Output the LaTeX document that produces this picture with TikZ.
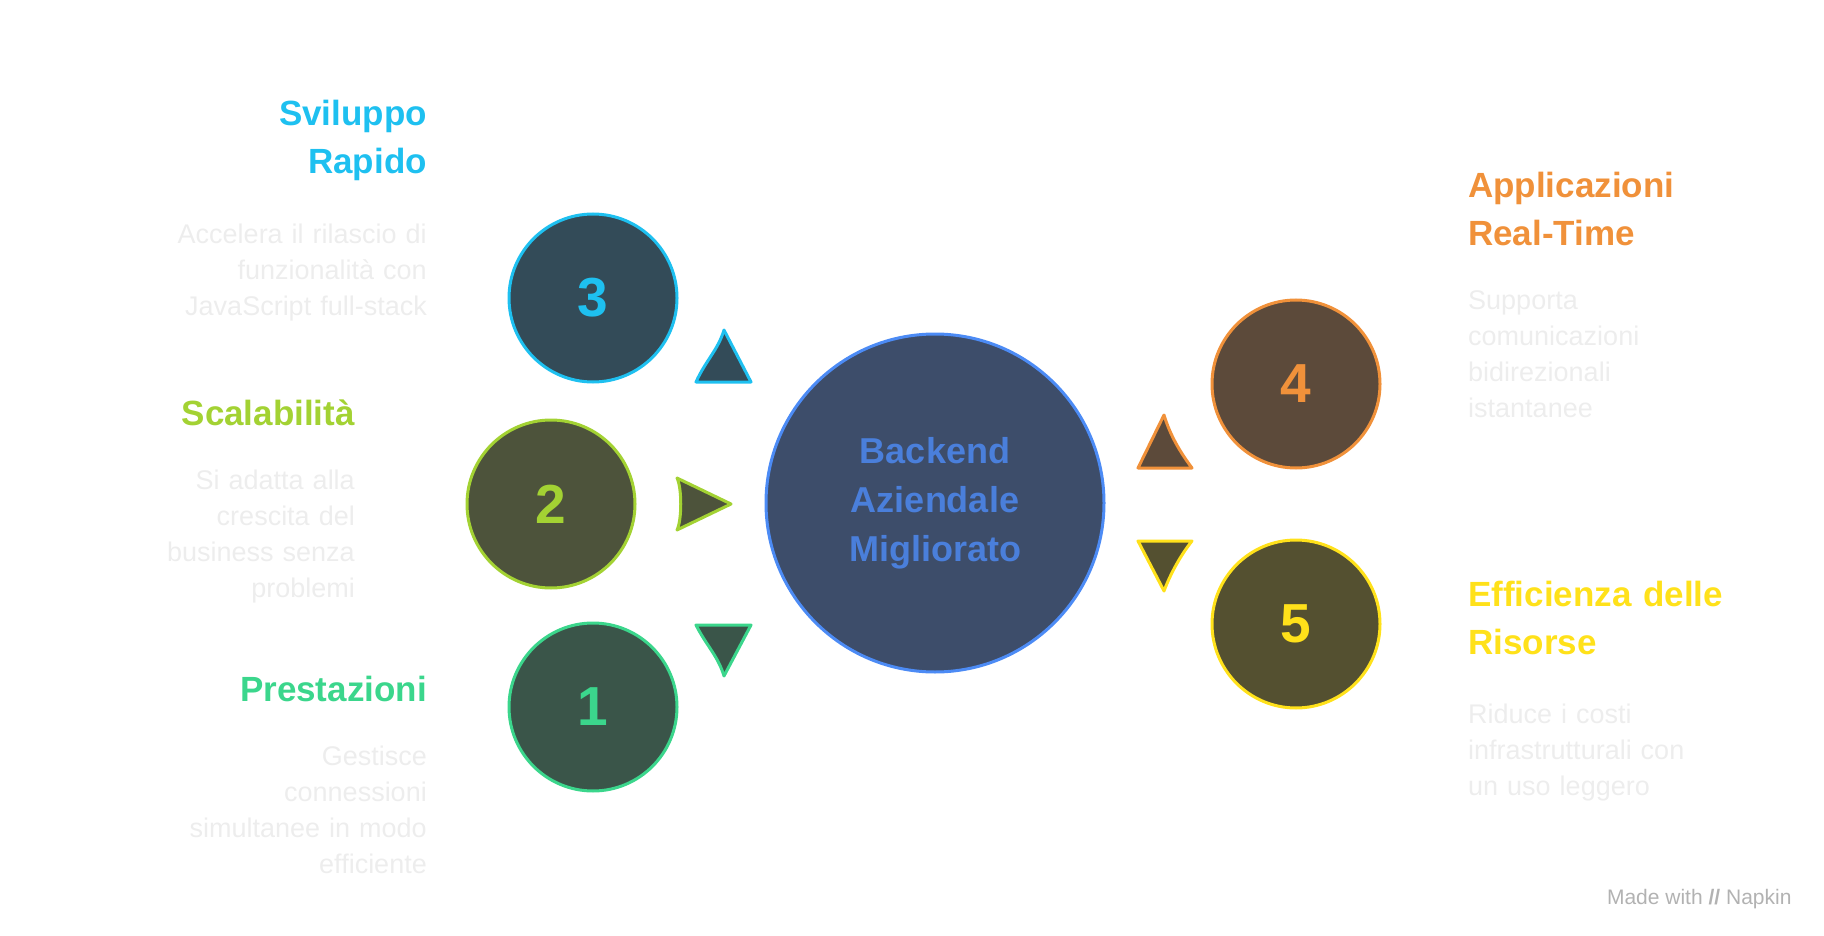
\documentclass[tikz,border=0pt]{standalone}
\usepackage{fontspec}
\setmainfont{Liberation Sans}
\begin{document}
\begin{tikzpicture}[x=1pt,y=-1pt,
 circ/.style={circle,line width=3pt,minimum size=#1,inner sep=0pt,font=\fontsize{55}{55}\selectfont\bfseries},
 ttl/.style={font=\fontsize{35}{48}\selectfont\bfseries,inner sep=0pt,text width=330pt},
 dsc/.style={font=\fontsize{27}{36}\selectfont,text=black!7,inner sep=0pt,text width=330pt},
 tri/.style={line width=3pt,line join=round}]
\definecolor{cC}{HTML}{1EC0F0}\definecolor{fC}{HTML}{334B58}
\definecolor{cG}{HTML}{A3D233}\definecolor{fG}{HTML}{4D533B}
\definecolor{cE}{HTML}{3BD68C}\definecolor{fE}{HTML}{3A5549}
\definecolor{cO}{HTML}{F0913A}\definecolor{fO}{HTML}{5C4A3A}
\definecolor{cY}{HTML}{FFE11A}\definecolor{fY}{HTML}{545030}
\definecolor{cB}{HTML}{4C8BF5}\definecolor{fB}{HTML}{3D4D6A}\definecolor{tB}{HTML}{4A7FDB}
\useasboundingbox (0,0) rectangle (1824,936);
\node[circ=338pt,draw=cB,fill=fB,text=tB,align=center,font=\fontsize{36}{49}\selectfont\bfseries] (c) at (935,503) {Backend\\Aziendale\\Migliorato};
\node[circ=168pt,draw=cC,fill=fC,text=cC] (n3) at (593,298) {3};
\node[circ=168pt,draw=cG,fill=fG,text=cG] (n2) at (551,504) {2};
\node[circ=168pt,draw=cE,fill=fE,text=cE] (n1) at (593,707) {1};
\node[circ=168pt,draw=cO,fill=fO,text=cO] (n4) at (1296,384) {4};
\node[circ=168pt,draw=cY,fill=fY,text=cY] (n5) at (1296,624) {5};
% triangles
\draw[tri,draw=cC,fill=fC] (724,330) -- (751,382) -- (696,382) .. controls (706,360) and (718,350) .. cycle;
\draw[tri,draw=cG,fill=fG] (731,504) -- (677,530) .. controls (682,520) and (682,488) .. (677,478) -- cycle;
\draw[tri,draw=cE,fill=fE] (724,676) -- (751,625) -- (696,625) .. controls (706,645) and (718,656) .. cycle;
\draw[tri,draw=cO,fill=fO] (1164,415) -- (1138,468) -- (1192,468) .. controls (1180,452) and (1170,435) .. cycle;
\draw[tri,draw=cY,fill=fY] (1164,591) -- (1138,541) -- (1192,541) .. controls (1180,556) and (1170,575) .. cycle;
% texts
\node[ttl,text=cC,align=right,anchor=north east] (t3) at (427,100) {Sviluppo\\Rapido};
\node[dsc,align=right,anchor=north east] (d3) at (427,224) {Accelera il rilascio di\\funzionalità con\\JavaScript full-stack};
\node[ttl,text=cG,align=right,anchor=north east] (t2) at (355,400) {Scalabilità};
\node[dsc,align=right,anchor=north east] (d2) at (355,470) {Si adatta alla\\crescita del\\business senza\\problemi};
\node[ttl,text=cE,align=right,anchor=north east] (t1) at (427,676) {Prestazioni};
\node[dsc,align=right,anchor=north east] (d1) at (427,746) {Gestisce\\connessioni\\simultanee in modo\\efficiente};
\node[ttl,text=cO,align=left,anchor=north west] (t4) at (1468,172) {Applicazioni\\Real-Time};
\node[dsc,align=left,anchor=north west] (d4) at (1468,290) {Supporta\\comunicazioni\\bidirezionali\\istantanee};
\node[ttl,text=cY,align=left,anchor=north west] (t5) at (1468,581) {Efficienza delle\\Risorse};
\node[dsc,align=left,anchor=north west] (d5) at (1468,704) {Riduce i costi\\infrastrutturali con\\un uso leggero};
\node[font=\fontsize{21}{21}\selectfont,text=black!30,anchor=east] (mk) at (1795,899) {Made with \textbf{//} Napkin};
\end{tikzpicture}
\end{document}
